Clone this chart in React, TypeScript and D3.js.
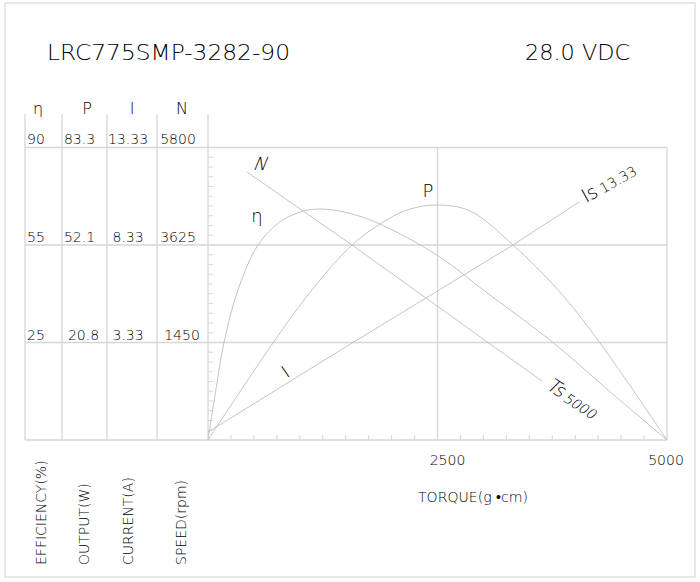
import React from "react";
import * as d3 from "d3";

// ---------- data ----------
const torqueTicks = [2500, 5000];
const effTicks = [90, 55, 25];
const powTicks = [83.3, 52.1, 20.8];
const curTicks = [13.33, 8.33, 3.33];
const spdTicks = [5800, 3625, 1450];
const headers = ["η", "P", "I", "N"];
const axisNames = ["EFFICIENCY(%)", "OUTPUT(W)", "CURRENT(A)", "SPEED(rpm)"];

// torque (g·cm), efficiency (%)
const effCurve: [number, number][] = [
  [0, 0], [84, 12.6], [174, 25], [327, 41.2], [545, 55], [784, 63.3], [1002, 66.8],
  [1198, 67.9], [1492, 66.8], [1874, 62.5], [2527, 51.3], [2996, 41.2], [3758, 25],
  [4379, 12.4], [5000, 0],
];
// torque, output (W)
const powCurve: [number, number][] = [
  [0, 0], [708, 20.7], [1133, 37.7], [1569, 52.1], [1874, 58.8], [2168, 63.3],
  [2500, 64.9], [2854, 63.0], [3322, 52.1], [3813, 37.7], [4270, 20.7], [5000, 0],
];
// torque, current (A)
const curLine: [number, number][] = [[0, 0.27], [1579, 3.33], [3322, 8.33], [4041, 10.53]];
// torque, speed (rpm)
const spdLine: [number, number][] = [[425, 5253], [1569, 3625], [3050, 1450], [3638, 877]];

const title = "LRC775SMP-3282-90";
const voltage = "28.0 VDC";
const stallCurrent = "13.33";
const stallTorque = "5000";

// ---------- layout ----------
const W = 700, H = 582;
const L = 208, R = 667, T = 147.5, B = 440;
const tableTop = 114;
const colLines = [25, 62, 107, 157, 208];
const colText = [27, 79.5, 128, 178];
const rowNudge = [0, 0, 4];
const font = "'DejaVu Sans', sans-serif";
const ink = "#000";
const gridC = "#d6d6d6";
const curveC = "#c4c4c4";
const fw = 200;

const x = d3.scaleLinear().domain([0, 5000]).range([L, R]);
const rowY = [T, 245, 342.5, B];
const yEff = d3.scaleLinear().domain([0, 25, 55, 90]).range([B, rowY[2], rowY[1], T]);
const yPow = d3.scaleLinear().domain([0, 20.8, 52.1, 83.3]).range([B, rowY[2], rowY[1], T]);
const yCur = d3.scaleLinear().domain([0, 3.33, 8.33, 13.33]).range([B, rowY[2], rowY[1], T]);
const ySpd = d3.scaleLinear().domain([0, 1450, 3625, 5800]).range([B, rowY[2], rowY[1], T]);
const yFrac = d3.scaleLinear().domain([0, 30]).range([B, T]);

export default function App() {
  const smooth = (ys: d3.ScaleLinear<number, number>) =>
    d3.line<[number, number]>().x((d) => x(d[0])).y((d) => ys(d[1])).curve(d3.curveCatmullRom.alpha(0.5));
  const straight = (ys: d3.ScaleLinear<number, number>) =>
    d3.line<[number, number]>().x((d) => x(d[0])).y((d) => ys(d[1]));

  const rows = [0, 1, 2].map((i) => [effTicks[i], powTicks[i], curTicks[i], spdTicks[i]]);
  const rowYs = [yEff(effTicks[0]), yEff(effTicks[1]), yEff(effTicks[2])];

  const yTicks = d3.range(1, 30).filter((v) => v % 10 !== 0).map((v) => yFrac(v));
  const xTicks = d3.range(250, 5000, 250).filter((v) => v !== 2500).map((v) => x(v));

  const curEnd = curLine[curLine.length - 1];
  const spdEnd = spdLine[spdLine.length - 1];
  const isX = x(curEnd[0]) + 7, isY = yCur(curEnd[1]) + 1;
  const tsX = x(spdEnd[0]) + 3, tsY = ySpd(spdEnd[1]) + 7;

  return (
    <svg width={W} height={H} style={{ position: "absolute", left: 0, top: 0, background: "#fff" }}
      fontFamily={font} fill={ink} fontWeight={fw}>
      <rect x={5} y={3} width={690} height={574} fill="#fff" stroke="#dadada" strokeWidth={1.2} />

      {/* titles */}
      <text x={47} y={60} fontSize={21} textLength={243} lengthAdjust="spacingAndGlyphs">{title}</text>
      <text x={525} y={60} fontSize={21} textLength={105} lengthAdjust="spacingAndGlyphs">{voltage}</text>

      {/* header symbols */}
      {headers.map((h, i) => (
        <text key={h} x={[38, 87, 132, 182][i]} y={114} fontSize={16} textAnchor="middle">{h}</text>
      ))}

      {/* table vertical lines */}
      {colLines.map((cx, i) => (
        <line key={i} x1={cx} x2={cx} y1={tableTop} y2={B} stroke={gridC} strokeWidth={1.3} />
      ))}
      {/* horizontal grid rows */}
      {rowY.map((ry, i) => (
        <line key={i} x1={25} x2={R} y1={ry} y2={ry} stroke={gridC} strokeWidth={1.3} />
      ))}
      {/* vertical grid lines at torque ticks */}
      {torqueTicks.map((t) => (
        <line key={t} x1={x(t)} x2={x(t)} y1={T} y2={B} stroke={gridC} strokeWidth={1.3} />
      ))}
      {/* minor ticks */}
      {yTicks.map((ty, i) => (
        <line key={i} x1={L} x2={L + 5} y1={ty} y2={ty} stroke={gridC} strokeWidth={1} />
      ))}
      {xTicks.map((tx, i) => (
        <line key={i} x1={tx} x2={tx} y1={B} y2={B - 5} stroke={gridC} strokeWidth={1} />
      ))}

      {/* table values */}
      {rows.map((r, ri) =>
        r.map((v, ci) => (
          <text key={ri + "-" + ci}
            x={ci === 0 ? colText[0] : colText[ci] + (ci === 1 || ci === 3 ? rowNudge[ri] : 0)}
            y={rowYs[ri] - (ri === 0 ? 3.5 : 3)}
            fontSize={14} textAnchor={ci === 0 ? "start" : "middle"}>
            {String(v)}
          </text>
        ))
      )}

      {/* x tick labels */}
      {torqueTicks.map((t, i) => (
        <text key={t} x={x(t) + (i === 0 ? 10 : -1)} y={465} fontSize={14} textAnchor="middle">{t}</text>
      ))}
      <text x={418} y={502} fontSize={14} textLength={110} lengthAdjust="spacingAndGlyphs">TORQUE(g •cm)</text>

      {/* rotated axis names */}
      {axisNames.map((n, i) => (
        <text key={n} transform={`translate(${[46, 89, 133, 186][i]},565) rotate(-90)`} fontSize={14}>{n}</text>
      ))}

      {/* curves */}
      <g fill="none" stroke={curveC} strokeWidth={1}>
        <path d={smooth(yEff)(effCurve) || ""} />
        <path d={smooth(yPow)(powCurve) || ""} />
        <path d={straight(yCur)(curLine) || ""} />
        <path d={straight(ySpd)(spdLine) || ""} />
      </g>

      {/* curve labels */}
      <text transform="translate(259,170) skewX(-22)" fontSize={18} textAnchor="middle">N</text>
      <text x={257} y={222} fontSize={18} textAnchor="middle">η</text>
      <text x={428} y={197} fontSize={18} textAnchor="middle">P</text>
      <text transform="translate(289,377) rotate(-34)" fontSize={18} textAnchor="middle">I</text>
      <text transform={`translate(${isX},${isY}) rotate(-29)`}>
        <tspan fontSize={19}>Is</tspan>
        <tspan fontSize={14} dx={4}>{stallCurrent}</tspan>
      </text>
      <text transform={`translate(${tsX},${tsY}) rotate(33) skewX(-12)`}>
        <tspan fontSize={19}>Ts</tspan>
        <tspan fontSize={14} dx={3} dy={1}>{stallTorque}</tspan>
      </text>
    </svg>
  );
}
